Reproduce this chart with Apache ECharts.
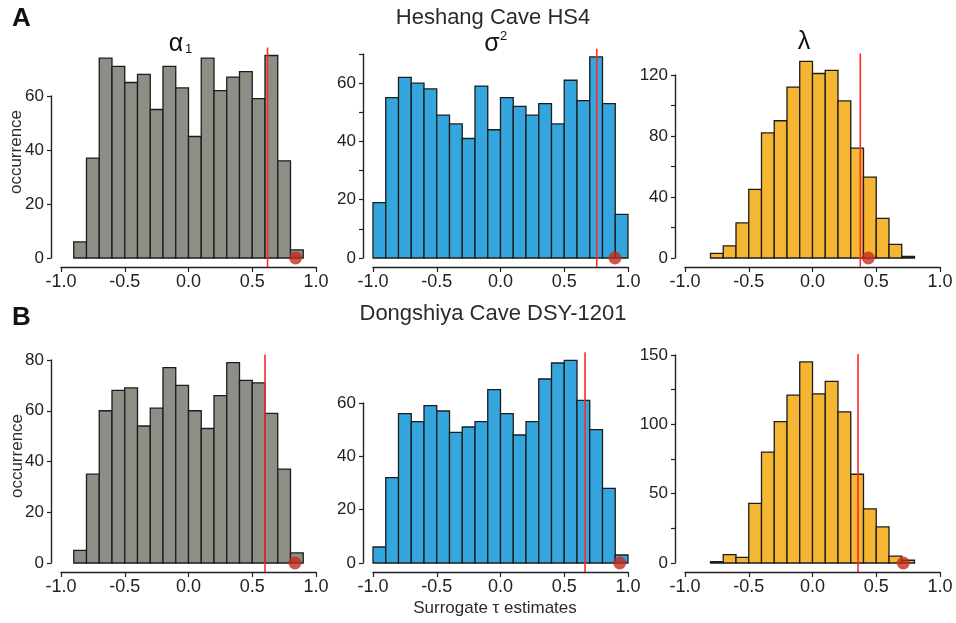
<!DOCTYPE html>
<html>
<head>
<meta charset="utf-8">
<title>Surrogate tau estimates</title>
<script src="https://cdn.jsdelivr.net/npm/echarts@6/dist/echarts.min.js"></script>
<style>
  html, body { margin: 0; padding: 0; background: #fff; }
  #chart { width: 956px; height: 623px; }
</style>
</head>
<body>
<div id="chart"></div>
<script>
// width of every histogram bin
var BIN = 0.1;

// Heshang Cave HS4 (row A)
var hsAlphaStart = -0.9;
var hsAlphaCounts = [6, 37, 74, 71, 65, 68, 55, 71, 63, 45, 74, 62, 67, 69, 59, 75, 36, 3];
var hsSigmaStart = -1.0;
var hsSigmaCounts = [19, 55, 62, 60, 58, 49, 46, 41, 59, 44, 55, 52, 49, 53, 46, 61, 54, 69, 53, 15];
var hsLambdaStart = -0.8;
var hsLambdaCounts = [3, 8, 23, 45, 82, 90, 112, 129, 121, 123, 103, 72, 53, 26, 9, 1];

// Dongshiya Cave DSY-1201 (row B)
var dsAlphaStart = -0.9;
var dsAlphaCounts = [5, 35, 60, 68, 69, 54, 61, 77, 70, 60, 53, 66, 79, 72, 71, 59, 37, 4];
var dsSigmaStart = -1.0;
var dsSigmaCounts = [6, 32, 56, 53, 59, 57, 49, 51, 53, 65, 56, 48, 53, 69, 75, 76, 61, 50, 28, 3];
var dsLambdaStart = -0.8;
var dsLambdaCounts = [1, 6, 4, 43, 80, 102, 121, 145, 122, 131, 109, 64, 39, 26, 5, 2];

// red line (observed tau) and red dot, per panel: alpha, sigma, lambda
var hsLine = [0.62, 0.755, 0.375];
var hsDot = [0.84, 0.898, 0.438];
var dsLine = [0.60, 0.663, 0.357];
var dsDot = [0.835, 0.935, 0.712];

// y axis ticks per panel (A alpha, A sigma, A lambda, B alpha, B sigma, B lambda)
var yTickMax = [60, 70, 120, 80, 60, 150];
var yTickStep = [20, 10, 20, 20, 20, 25];
var yLabelStep = [20, 20, 40, 20, 20, 50];

var FONT = '"Liberation Sans", Arial, Helvetica, sans-serif';
var INK = '#222';
var colGray = '#8d8e86', colBlue = '#35a6dd', colOrange = '#f5b733';

var panels = [
  { start: hsAlphaStart, counts: hsAlphaCounts, line: hsLine[0], dot: hsDot[0], color: colGray, grid: { left: 61, top: 96, width: 255, height: 162 } },
  { start: hsSigmaStart, counts: hsSigmaCounts, line: hsLine[1], dot: hsDot[1], color: colBlue, grid: { left: 373, top: 54, width: 255, height: 204 } },
  { start: hsLambdaStart, counts: hsLambdaCounts, line: hsLine[2], dot: hsDot[2], color: colOrange, grid: { left: 685, top: 75, width: 255, height: 183 } },
  { start: dsAlphaStart, counts: dsAlphaCounts, line: dsLine[0], dot: dsDot[0], color: colGray, grid: { left: 61, top: 360, width: 255, height: 203 } },
  { start: dsSigmaStart, counts: dsSigmaCounts, line: dsLine[1], dot: dsDot[1], color: colBlue, grid: { left: 373, top: 403, width: 255, height: 160 } },
  { start: dsLambdaStart, counts: dsLambdaCounts, line: dsLine[2], dot: dsDot[2], color: colOrange, grid: { left: 685, top: 355, width: 255, height: 208 } }
];

var grids = [], xAxes = [], yAxes = [], series = [];

panels.forEach(function (p, i) {
  grids.push({ left: p.grid.left, top: p.grid.top, width: p.grid.width, height: p.grid.height, outerBoundsMode: 'none' });

  xAxes.push({
    gridIndex: i, type: 'value', min: -1, max: 1, interval: 0.5, offset: 9,
    axisLine: { show: true, onZero: false, lineStyle: { color: INK, width: 1.4 } },
    axisTick: { show: true, length: 5, lineStyle: { color: INK, width: 1.2 } },
    axisLabel: { margin: 6, fontSize: 18, color: INK, fontFamily: FONT, formatter: function (v) { return v.toFixed(1); } },
    splitLine: { show: false }
  });

  var ls = yLabelStep[i];
  yAxes.push({
    gridIndex: i, type: 'value', min: 0, max: yTickMax[i], interval: yTickStep[i], offset: 10,
    axisLine: { show: true, onZero: false, lineStyle: { color: INK, width: 1.4 } },
    axisTick: { show: true, length: 4, lineStyle: { color: INK, width: 1.2 } },
    axisLabel: { margin: 7, fontSize: 17, color: INK, fontFamily: FONT, formatter: function (v) { return v % ls === 0 ? String(v) : ''; } },
    splitLine: { show: false }
  });

  var bins = p.counts.map(function (c, k) {
    return [p.start + k * BIN, p.start + (k + 1) * BIN, c];
  });
  var color = p.color;
  series.push({
    type: 'custom', xAxisIndex: i, yAxisIndex: i, data: bins,
    encode: { x: [0, 1], y: 2 },
    renderItem: function (params, api) {
      var a = api.coord([api.value(0), api.value(2)]);
      var b = api.coord([api.value(1), 0]);
      return {
        type: 'rect',
        shape: { x: a[0], y: a[1], width: b[0] - a[0], height: b[1] - a[1] },
        style: { fill: color, stroke: '#1c1c1c', lineWidth: 1.3 }
      };
    },
    z: 2
  });

  var maxC = Math.max.apply(null, p.counts);
  series.push({
    type: 'line', xAxisIndex: i, yAxisIndex: i, clip: false, symbol: 'none', silent: true,
    data: [[p.line, -0.045 * maxC], [p.line, 1.04 * maxC]],
    lineStyle: { color: '#ff2a2a', width: 1.6 },
    z: 3
  });

  series.push({
    type: 'scatter', xAxisIndex: i, yAxisIndex: i, clip: false, silent: true,
    data: [[p.dot, 0]], symbolSize: 13,
    itemStyle: { color: '#c42b1d' },
    z: 4
  });
});

function txt(x, y, s, size, opt) {
  opt = opt || {};
  return {
    type: 'text', x: x, y: y, rotation: opt.rotation || 0, z: 10,
    style: {
      text: s, fill: opt.fill || '#2b2b2b',
      font: (opt.weight || 'normal') + ' ' + size + 'px ' + FONT,
      textAlign: opt.align || 'center', textVerticalAlign: 'middle',
      align: opt.align || 'center', verticalAlign: 'middle'
    }
  };
}

var labels = [
  txt(12, 19, 'A', 26, { weight: 'bold', align: 'left', fill: '#111' }),
  txt(12, 318, 'B', 26, { weight: 'bold', align: 'left', fill: '#111' }),
  txt(493, 18, 'Heshang Cave HS4', 22),
  txt(493, 314, 'Dongshiya Cave DSY-1201', 22),
  txt(16, 152, 'occurrence', 17, { rotation: Math.PI / 2 }),
  txt(17, 456, 'occurrence', 17, { rotation: Math.PI / 2 }),
  txt(495, 608, 'Surrogate \u03c4 estimates', 17),
  txt(176, 44, '\u03b1', 25, { fill: '#111' }),
  txt(185, 49, '1', 13, { align: 'left', fill: '#111' }),
  txt(492, 44, '\u03c3', 25, { fill: '#111' }),
  txt(500, 36, '2', 13, { align: 'left', fill: '#111' }),
  txt(804, 42, '\u03bb', 25, { fill: '#111' })
];

var myChart = echarts.init(document.getElementById('chart'));
myChart.setOption({
  animation: false,
  backgroundColor: '#fff',
  grid: grids,
  xAxis: xAxes,
  yAxis: yAxes,
  series: series,
  graphic: labels
});
</script>
</body>
</html>
